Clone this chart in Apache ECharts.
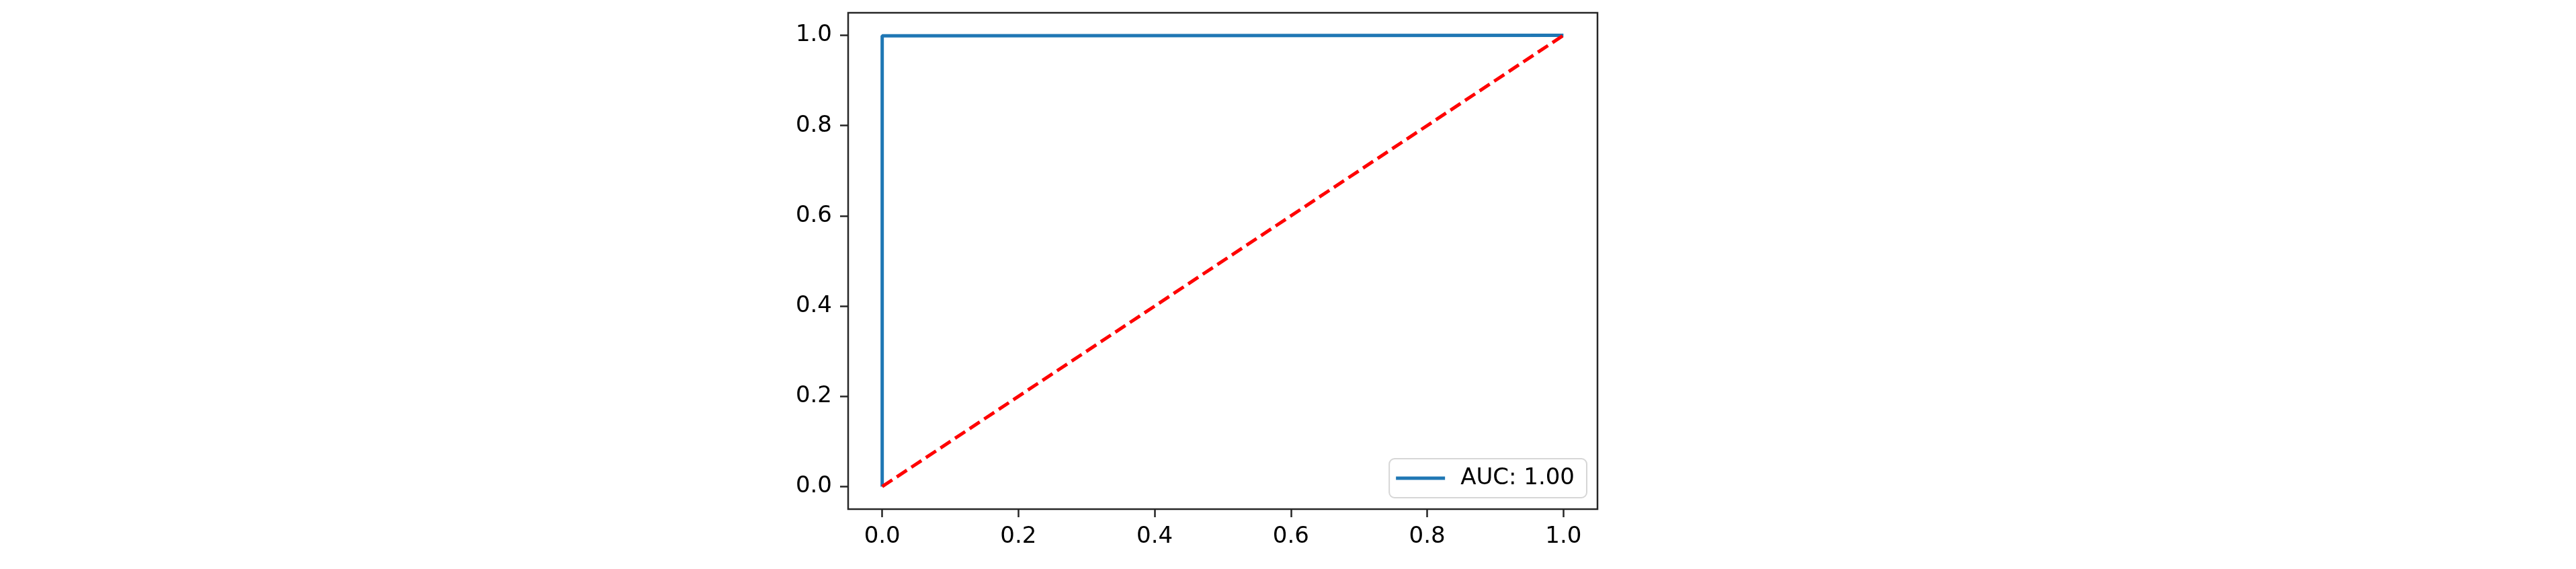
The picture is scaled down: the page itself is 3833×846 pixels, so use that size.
<!DOCTYPE html>
<html>
<head>
<meta charset="utf-8">
<script src="https://cdn.jsdelivr.net/npm/echarts@6/dist/echarts.min.js"></script>
<style>
  html, body { margin: 0; padding: 0; background: #fff; }
  #chart { width: 3833px; height: 846px; }
</style>
</head>
<body>
<div id="chart"></div>
<script>
// ROC curve points
const fpr = [0, 0, 1]
const tpr = [0, 0.999, 1]
// chance diagonal
const diagX = [0, 1]
const diagY = [0, 1]
const ticks = [0, 0.2, 0.4, 0.6, 0.8, 1.0]
const legendLabel = 'AUC: 1.00'

const chart = echarts.init(document.getElementById('chart'), null, { renderer: 'canvas' })

const axisText = { color: '#000', fontSize: 34, fontFamily: 'DejaVu Sans' }

const option = {
  animation: false,
  backgroundColor: '#fff',
  grid: {
    left: 1262, right: 1456, top: 19, bottom: 89,
    show: true, borderColor: '#262626', borderWidth: 2.5, backgroundColor: 'transparent'
  },
  legend: {
    data: [legendLabel],
    right: 1472, bottom: 106,
    orient: 'vertical',
    itemWidth: 73, itemHeight: 5,
    padding: [12, 18, 12, 10],
    backgroundColor: 'rgba(255,255,255,0.8)',
    borderColor: '#d6d6d6', borderWidth: 2, borderRadius: 8,
    textStyle: { ...axisText, padding: [0, 0, 0, 18] },
    icon: 'rect'
  },
  xAxis: {
    type: 'value', min: -0.05, max: 1.05,
    splitLine: { show: false },
    axisLine: { show: false, onZero: false },
    axisTick: { show: true, length: 12, lineStyle: { color: '#262626', width: 2.5 }, customValues: ticks },
    axisLabel: { ...axisText, margin: 24, customValues: ticks, formatter: v => v.toFixed(1) }
  },
  yAxis: {
    type: 'value', min: -0.05, max: 1.05,
    splitLine: { show: false },
    axisLine: { show: false, onZero: false },
    axisTick: { show: true, length: 12, lineStyle: { color: '#262626', width: 2.5 }, customValues: ticks },
    axisLabel: { ...axisText, margin: 24, customValues: ticks, formatter: v => v.toFixed(1) }
  },
  series: [
    {
      name: legendLabel, type: 'line', symbol: 'none',
      data: fpr.map((x, i) => [x, tpr[i]]),
      lineStyle: { color: '#1f77b4', width: 5 },
      itemStyle: { color: '#1f77b4' }
    },
    {
      name: 'chance', type: 'line', symbol: 'none',
      data: diagX.map((x, i) => [x, diagY[i]]),
      lineStyle: { color: '#ff0000', width: 5, type: [18, 8] },
      itemStyle: { color: '#ff0000' }
    }
  ]
}

chart.setOption(option)
</script>
</body>
</html>
